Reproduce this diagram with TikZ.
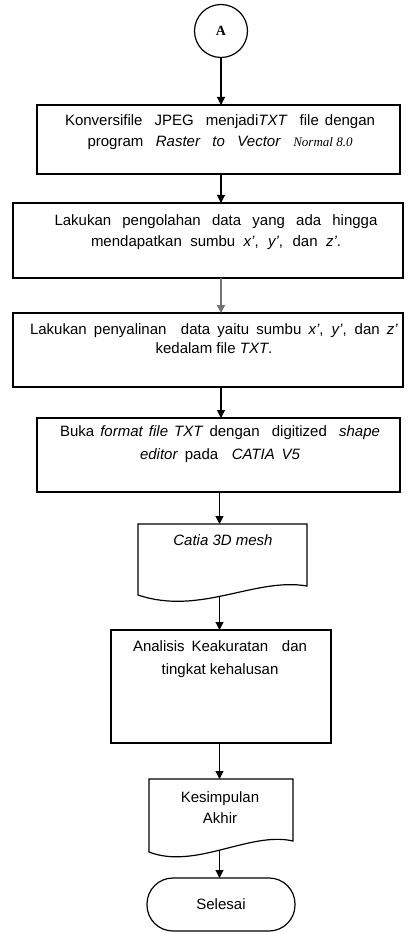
\documentclass[tikz,border=0pt]{standalone}
\usepackage{fontspec}
\setmainfont{Liberation Sans}
\newfontfamily\serifA{Liberation Serif}
\usetikzlibrary{arrows.meta}

\begin{document}
\begin{tikzpicture}[x=1pt,y=-1pt,
  every node/.style={inner sep=0pt, outer sep=0pt},
  stepbox/.style={draw, rectangle, line width=1.2pt},
  docbox/.style={rectangle},
  outline/.style={draw, line width=1.2pt},
  txt/.style={align=center, anchor=north, font=\fontsize{15}{21}\selectfont},
  arr/.style={line width=1.1pt, -{Triangle[length=8pt,width=8pt]}},
  greyarr/.style={arr, draw=black!55, line width=1.8pt}
]
\useasboundingbox (0,0) rectangle (407,933);

% connector label
\node[draw, circle, line width=1.2pt, minimum size=53pt] (A) at (221,31)
  {\serifA\bfseries\fontsize{14}{14}\selectfont A};

% process boxes
\node[stepbox, minimum width=363pt, minimum height=69pt] (b1) at (218.5,139.5) {};
\node[stepbox, minimum width=390pt, minimum height=75pt] (b2) at (208,240.5) {};
\node[stepbox, minimum width=390pt, minimum height=74pt] (b3) at (208,350) {};
\node[stepbox, minimum width=363pt, minimum height=74pt] (b4) at (218.5,455) {};
\node[docbox, minimum width=169pt, minimum height=72pt] (d1) at (222.5,560) {};
\node[stepbox, minimum width=220pt, minimum height=113pt] (b5) at (221,686.5) {};
\node[docbox, minimum width=144pt, minimum height=71pt] (d2) at (221,814.5) {};
\node[draw, rectangle, rounded corners=26pt, line width=1.2pt,
      minimum width=148pt, minimum height=53pt,
      font=\fontsize{15}{15}\selectfont] (t) at (221,904.5) {Selesai};

% document outlines with wavy bottom edge
\draw[outline] (d1.north west) -- (d1.north east) -- (307,586)
  .. controls (255,577) and (200,616) .. (138,595) -- cycle;
\draw[outline] (d2.north west) -- (d2.north east) -- (293,841)
  .. controls (250,831) and (195,870) .. (149,852) -- cycle;

% box texts
\node[txt] (t1) at (220,115) {%
  \makebox[310pt][s]{Konversifile\ \ JPEG\ \ menjadi\textit{TXT}\ \ file dengan}\\
  \makebox[265pt][s]{program \textit{Raster to Vector} \mbox{\serifA\itshape\fontsize{13}{13}\selectfont Normal 8.0}}};
\node[txt] (t2) at (216,215) {%
  \makebox[323pt][s]{Lakukan pengolahan data yang ada hingga}\\
  \makebox[250pt][s]{mendapatkan sumbu \textit{x'}, \textit{y'}, dan \textit{z'}.}};
\node[txt, font=\fontsize{15}{19}\selectfont] (t3) at (214,324) {%
  \makebox[368pt][s]{Lakukan penyalinan\ \ data yaitu sumbu \textit{x'}, \textit{y'}, dan \textit{z'}}\\
  kedalam file \textit{TXT}.};
\node[txt, font=\fontsize{15}{23}\selectfont] (t4) at (220,426) {%
  \makebox[320pt][s]{Buka \textit{format file TXT} dengan\ \ digitized\ \ \textit{shape}}\\
  \makebox[160pt][s]{\textit{editor} pada\ \ \textit{CATIA V5}}};
\node[txt] (t5) at (223,535) {\textit{Catia 3D mesh}};
\node[txt, font=\fontsize{15}{23}\selectfont] (t6) at (220,641) {%
  \makebox[174pt][s]{Analisis Keakuratan\ \ dan}\\
  tingkat kehalusan};
\node[txt] (t7) at (220,792) {Kesimpulan\\Akhir};

% connectors
\coordinate (lx) at (219.5,0);
\draw[arr] (A.south) -- (A.south |- b1.north);
\draw[arr] (b1.south -| A) -- (b2.north -| A);
\draw[greyarr] (b2.south -| A) -- (b3.north -| A);
\draw[arr] (b3.south -| A) -- (b4.north -| A);
\draw[arr] (b4.south -| lx) -- (d1.north -| lx);
\draw[arr] (d1.south -| lx) -- (b5.north -| lx);
\draw[arr] (b5.south -| lx) -- (d2.north -| lx);
\draw[arr] (d2.south -| lx) -- (t.north -| lx);
\end{tikzpicture}
\end{document}
